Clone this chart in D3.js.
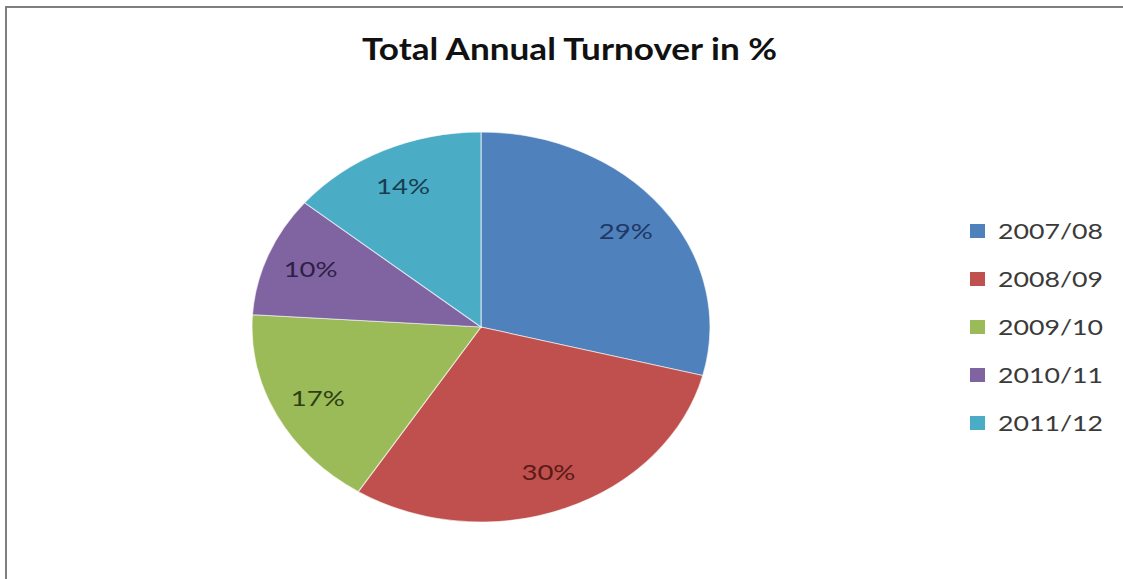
<!DOCTYPE html>
<html>
<head>
<meta charset="utf-8">
<script src="https://cdn.jsdelivr.net/npm/d3@7"></script>
<style>
  body { margin: 0; background: #fff; }
  svg { display: block; }
</style>
</head>
<body>
<div id="chart"></div>
<script>
const width = 1123, height = 579;

// data
const years = ["2007/08", "2008/09", "2009/10", "2010/11", "2011/12"];
const shares = [29, 30, 17, 10, 14];
const sliceColors = ["#4F81BD", "#C0504D", "#9BBB59", "#8064A2", "#4BACC6"];
const labelColors = ["#1F3864", "#5A1A18", "#2E4012", "#2F1F45", "#173E50"];

const data = years.map((y, i) => ({ year: y, value: shares[i] }));

const font = "Lato, 'Open Sans', sans-serif";

const svg = d3.select("#chart")
  .append("svg")
    .attr("width", width)
    .attr("height", height);

// frame edges (top + left only, as in the screenshot)
svg.append("line")
  .attr("x1", 5).attr("x2", width).attr("y1", 7).attr("y2", 7)
  .attr("stroke", "#7f7f7f").attr("stroke-width", 2);
svg.append("line")
  .attr("x1", 6).attr("x2", 6).attr("y1", 6).attr("y2", height)
  .attr("stroke", "#7f7f7f").attr("stroke-width", 2);

// the source image is stretched sideways, so text is stretched too
svg.append("text")
  .attr("x", 362)
  .attr("y", 60)
  .attr("textLength", 415)
  .attr("lengthAdjust", "spacingAndGlyphs")
  .style("font-family", font)
  .style("font-weight", "bold")
  .style("font-size", "30px")
  .attr("fill", "#111")
  .text("Total Annual Turnover in %");

// pie is an ellipse: draw on a circle, squash vertically
const cx = 481, cy = 327, rx = 229, ry = 195;

const pie = d3.pie()
  .value(d => d.value)
  .sort(null);

const arcs = pie(data);

const arc = d3.arc()
  .innerRadius(0)
  .outerRadius(rx);

const pieG = svg.append("g")
  .attr("transform", `translate(${cx}, ${cy}) scale(1, ${ry / rx})`);

pieG.selectAll("path")
  .data(arcs)
  .join("path")
    .attr("d", arc)
    .attr("fill", (d, i) => sliceColors[i])
    .attr("stroke", "#ffffff")
    .attr("stroke-opacity", 0.6)
    .attr("stroke-width", 1.2);

// labels placed at ~0.8 of the radius, unscaled text
const labelArc = d3.arc()
  .innerRadius(rx * 0.8)
  .outerRadius(rx * 0.8);

svg.append("g")
  .selectAll("text")
  .data(arcs)
  .join("text")
    .attr("x", d => cx + labelArc.centroid(d)[0] - 27)
    .attr("y", d => cy + labelArc.centroid(d)[1] * ry / rx)
    .attr("dy", "0.35em")
    .attr("textLength", 54)
    .attr("lengthAdjust", "spacingAndGlyphs")
    .style("font-family", font)
    .style("font-size", "22px")
    .attr("fill", (d, i) => labelColors[i])
    .text(d => d.data.value + "%");

// legend
const legendY = d3.scalePoint()
  .domain(years)
  .range([231, 423]);

const legend = svg.append("g")
  .selectAll("g")
  .data(years)
  .join("g")
    .attr("transform", d => `translate(970, ${legendY(d)})`);

legend.append("rect")
  .attr("x", 0)
  .attr("y", -7)
  .attr("width", 15)
  .attr("height", 14)
  .attr("fill", (d, i) => sliceColors[i]);

legend.append("text")
  .attr("x", 28)
  .attr("dy", "0.36em")
  .attr("textLength", 105)
  .attr("lengthAdjust", "spacingAndGlyphs")
  .style("font-family", font)
  .style("font-size", "22px")
  .attr("fill", "#3a3a3a")
  .text(d => d);
</script>
</body>
</html>
